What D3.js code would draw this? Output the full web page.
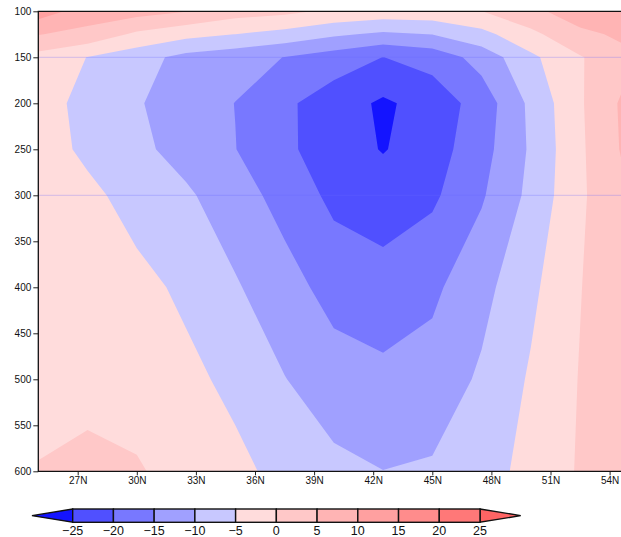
<!DOCTYPE html>
<html>
<head>
<meta charset="utf-8">
<script src="https://cdn.jsdelivr.net/npm/d3@7"></script>
<style>
  html, body { margin: 0; padding: 0; background: #fff; }
  text { font-family: "Liberation Sans", Arial, sans-serif; }
</style>
</head>
<body>
<svg id="chart" width="621" height="537"></svg>
<script>
// Latitude / pressure grid of the cross-section
const lats   = [25, 27.5, 30, 32.5, 35, 37.5, 40, 42.5, 45, 47.5, 50, 52.5, 55];
const levels = [100, 125, 150, 200, 250, 300, 400, 500, 600];

// Field values on each pressure level (one entry per latitude)
const u100 = [12.5, 7.7, 7.0, 5.2, 2.2, 1.15, -0.9, -1.83, -1.73, -0.05, 3.6, 7.95, 8.5];
const u125 = [5.2, 3.48, -0.95, -3.47, -5.05, -6.78, -9.17, -10.94, -9.9, -6.57, -1.24, 3.79, 6.25];
const u150 = [-1.8, -5.1, -8.0, -11.5, -13.0, -15.1, -17.5, -20.05, -18.1, -13.08, -6.08, -0.38, 4.0];
const u200 = [-3.15, -6.36, -9.58, -12.35, -15.08, -19.1, -22.5, -25.8, -22.94, -17.87, -8.9, -0.6, 6.8];
const u250 = [-2.96, -5.9, -8.83, -11.84, -14.9, -19.1, -22.36, -25.3, -22.3, -16.9, -9.33, -0.83, 6.5];
const u300 = [-1.33, -3.97, -6.62, -9.26, -12.8, -16.8, -21.2, -22.3, -20.9, -15.57, -8.71, -0.83, 5.0];
const u400 = [-1.5, -2.5, -3.8, -5.8, -9.5, -13.08, -16.8, -18.2, -16.0, -11.6, -6.1, -0.19, 4.5];
const u500 = [-2.0, -2.3, -3.0, -4.0, -6.0, -9.85, -12.76, -13.7, -13.03, -9.24, -4.42, 0.24, 3.5];
const u600 = [0.27, 1.88, 0.66, -2.64, -4.0, -6.2, -8.76, -9.95, -9.38, -7.0, -3.5, 0.48, 3.0];

// Shading levels and their colours (first = below lowest level, last = above highest)
const thresholds = [-25, -20, -15, -10, -5, 0, 5, 10, 15, 20, 25];
const colors = ["#1414ff", "#5050ff", "#7878ff", "#a0a0ff", "#c8c8ff",
                "#ffdcdc", "#ffc8c8", "#ffb4b4", "#ffa0a0", "#ff8c8c", "#ff7878", "#ff6464"];

const xTicks = [27, 30, 33, 36, 39, 42, 45, 48, 51, 54];
const yTicks = [100, 150, 200, 250, 300, 350, 400, 450, 500, 550, 600];
const refLines = [150, 300];

const W = 621, H = 537;
const svg = d3.select("#chart");

const x = d3.scaleLinear().domain([25, 55]).range([38.3, 629.3]);
const y = d3.scaleLinear().domain([100, 600]).range([11.3, 471.3]);
const plotL = x(25), plotT = y(100), plotB = y(600);

// grid-index space -> (lat, pressure)
const colToLat = d3.scaleLinear().domain(d3.range(lats.length)).range(lats).clamp(true);
const rowToLev = d3.scaleLinear().domain(d3.range(levels.length)).range(levels).clamp(true);

const rows = [u100, u125, u150, u200, u250, u300, u400, u500, u600];
const values = rows.flat();

const bands = d3.contours()
  .size([lats.length, levels.length])
  .thresholds(thresholds)(values);

const toScreen = d3.geoTransform({
  point(px, py) {
    this.stream.point(x(colToLat(px - 0.5)), y(rowToLev(py - 0.5)));
  }
});
const path = d3.geoPath(toScreen);

svg.append("defs").append("clipPath").attr("id", "plotClip")
  .append("rect")
  .attr("x", plotL).attr("y", plotT)
  .attr("width", W - plotL).attr("height", plotB - plotT);

const field = svg.append("g").attr("clip-path", "url(#plotClip)");

field.append("rect")
  .attr("x", plotL).attr("y", plotT)
  .attr("width", W - plotL).attr("height", plotB - plotT)
  .attr("fill", colors[0]);

field.selectAll("path.band")
  .data(bands)
  .join("path")
  .attr("class", "band")
  .attr("d", path)
  .attr("fill", (d, i) => colors[i + 1]);

// thin reference lines
field.selectAll("line.ref")
  .data(refLines)
  .join("line")
  .attr("class", "ref")
  .attr("x1", plotL).attr("x2", W)
  .attr("y1", d => y(d)).attr("y2", d => y(d))
  .attr("stroke", "#6a6aff")
  .attr("stroke-opacity", 0.3)
  .attr("stroke-width", 1);

// axes
const yAxis = d3.axisLeft(y).tickValues(yTicks).tickSize(5).tickPadding(2).tickFormat(d3.format("d"));
const gy = svg.append("g").attr("transform", `translate(${plotL},0)`).call(yAxis);
const xAxis = d3.axisBottom(x).tickValues(xTicks).tickSize(4).tickPadding(2).tickFormat(d => d + "N");
const gx = svg.append("g").attr("transform", `translate(0,${plotB})`).call(xAxis);

[gx, gy].forEach(g => {
  g.select(".domain").remove();
  g.selectAll(".tick line").attr("stroke", "#222").attr("stroke-width", 1);
  g.selectAll(".tick text")
    .attr("fill", "#111")
    .style("font-family", "'Liberation Sans', Arial, sans-serif")
    .style("font-size", "10px");
});

// frame (right side falls outside the view)
svg.append("path")
  .attr("d", `M${W},${plotT}H${plotL}V${plotB}H${W}`)
  .attr("fill", "none")
  .attr("stroke", "#111")
  .attr("stroke-width", 1.3);

// colour bar
const cb = d3.scaleLinear().domain([-25, 25]).range([72.7, 480]);
const cbTop = 509, cbBot = 522.3, cbMid = (cbTop + cbBot) / 2;
const gcb = svg.append("g");

gcb.append("path")
  .attr("d", `M${cb(-25)},${cbTop}L${cb(-30)},${cbMid}L${cb(-25)},${cbBot}Z`)
  .attr("fill", colors[0]);
gcb.append("path")
  .attr("d", `M${cb(25)},${cbTop}L${cb(30)},${cbMid}L${cb(25)},${cbBot}Z`)
  .attr("fill", colors[colors.length - 1]);

gcb.selectAll("rect.box")
  .data(d3.pairs(thresholds))
  .join("rect")
  .attr("class", "box")
  .attr("x", d => cb(d[0]))
  .attr("y", cbTop)
  .attr("width", d => cb(d[1]) - cb(d[0]))
  .attr("height", cbBot - cbTop)
  .attr("fill", (d, i) => colors[i + 1]);

gcb.selectAll("path, rect")
  .attr("stroke", "#111")
  .attr("stroke-width", 1.4)
  .attr("stroke-linejoin", "miter");

gcb.selectAll("text.lab")
  .data(thresholds)
  .join("text")
  .attr("class", "lab")
  .attr("x", d => cb(d))
  .attr("y", 535.3)
  .attr("text-anchor", "middle")
  .attr("fill", "#111")
  .style("font-size", "12.5px")
  .text(d => d < 0 ? "\u2212" + Math.abs(d) : String(d));
</script>
</body>
</html>
